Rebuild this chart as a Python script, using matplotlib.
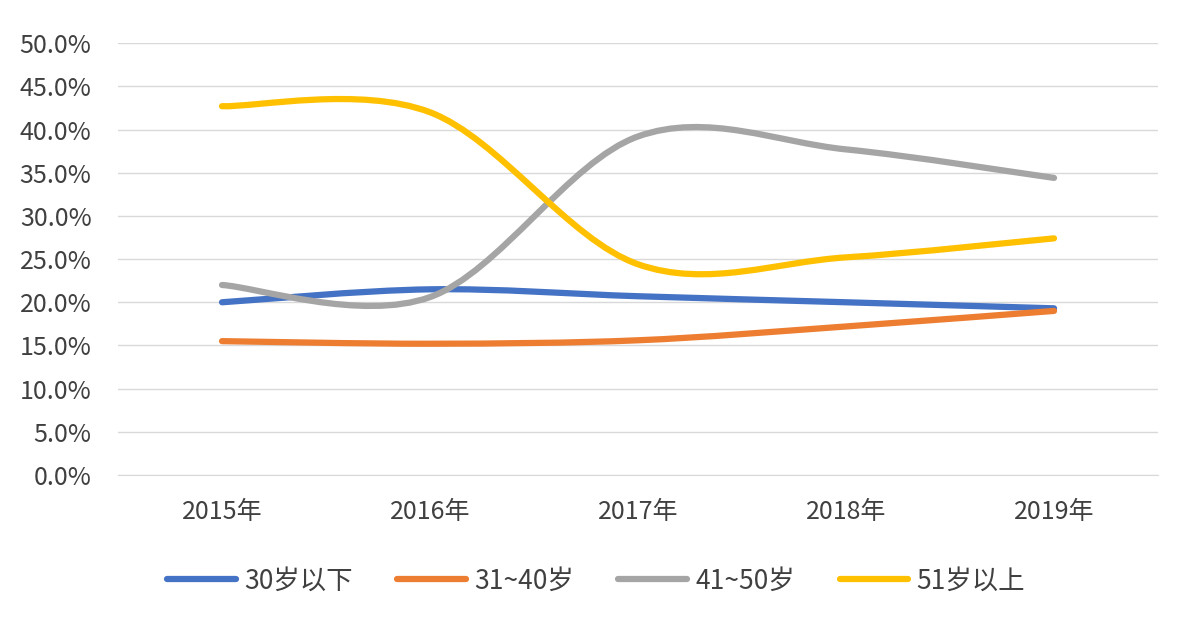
import numpy as np
import matplotlib
matplotlib.use("Agg")
from matplotlib import pyplot as plt
from matplotlib.path import Path
from matplotlib.patches import PathPatch
from matplotlib.lines import Line2D

plt.rcParams['font.family'] = ['Noto Sans CJK SC', 'DejaVu Sans']

years = ['2015年', '2016年', '2017年', '2018年', '2019年']
under30 = [20.0, 21.5, 20.7, 20.0, 19.3]
age31_40 = [15.5, 15.2, 15.6, 17.2, 19.0]
age41_50 = [22.0, 20.6, 39.2, 37.7, 34.4]
over51 = [42.7, 42.0, 24.4, 25.2, 27.4]

series = [
    ('30岁以下', under30, '#4472C4'),
    ('31~40岁', age31_40, '#ED7D31'),
    ('41~50岁', age41_50, '#A5A5A5'),
    ('51岁以上', over51, '#FFC000'),
]


def smooth_path(xs, ys):
    # Excel style smoothed line: catmull-rom converted to cubic bezier
    pts = np.column_stack([xs, ys]).astype(float)
    ext = np.vstack([pts[0], pts, pts[-1]])
    verts = [tuple(pts[0])]
    codes = [Path.MOVETO]
    for i in range(1, len(ext) - 2):
        p0, p1, p2, p3 = ext[i - 1], ext[i], ext[i + 1], ext[i + 2]
        c1 = p1 + (p2 - p0) / 6
        c2 = p2 - (p3 - p1) / 6
        verts += [tuple(c1), tuple(c2), tuple(p2)]
        codes += [Path.CURVE4] * 3
    return Path(verts, codes)


fig = plt.figure(figsize=(11.92, 6.3), dpi=100)
ax = fig.add_axes([0.099, 0.246, 0.8725, 0.6855])

x = np.arange(len(years))
handles = []
for name, vals, color in series:
    patch = PathPatch(smooth_path(x, vals), facecolor='none', edgecolor=color,
                      lw=4.5, capstyle='round', joinstyle='round', zorder=3)
    ax.add_patch(patch)
    handles.append(Line2D([], [], color=color, lw=4.5, solid_capstyle='round'))

ax.set_xlim(-0.5, len(years) - 0.5)
ax.set_ylim(0, 50)
ax.set_yticks(np.arange(0, 50.1, 5))
ax.set_yticklabels([f'{v:.1f}%' for v in np.arange(0, 50.1, 5)])
ax.set_xticks(x)
ax.set_xticklabels(years)
ax.grid(axis='y', color='#D9D9D9', lw=1)
ax.set_axisbelow(True)
for s in ax.spines.values():
    s.set_visible(False)
ax.spines['bottom'].set_visible(True)
ax.spines['bottom'].set_color('#D9D9D9')
ax.tick_params(axis='both', length=0, labelsize=18, colors='#404040')
ax.tick_params(axis='y', pad=19)
ax.tick_params(axis='x', pad=17)

fig.legend(handles, [s[0] for s in series], loc='center', ncol=4,
           bbox_to_anchor=(0.5, 0.078), frameon=False, fontsize=19,
           handlelength=2.6, handletextpad=0.3, columnspacing=1.7,
           labelcolor='#404040')

fig.savefig('out.png', dpi=100, facecolor='white')
